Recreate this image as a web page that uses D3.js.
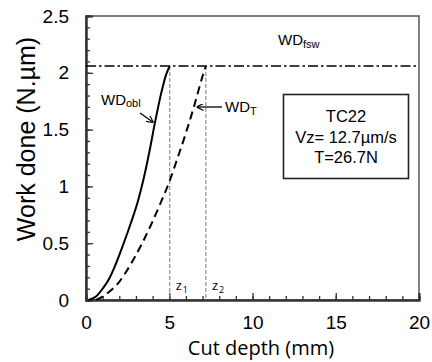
<!DOCTYPE html>
<html>
<head>
<meta charset="utf-8">
<script src="https://cdn.jsdelivr.net/npm/d3@7"></script>
<style>
  body { margin: 0; background: #fff; }
  svg text { fill: #000; }
</style>
</head>
<body>
<div id="chart"></div>
<script>
// WD_obl (solid) and WD_T (dashed) curves
const oblDepth = [0.14, 0.6, 1.0, 1.4, 1.8, 2.24, 2.7, 3.1, 3.45, 3.8, 4.14, 4.5, 4.8, 5.03];
const oblWork  = [0, 0.03, 0.10, 0.19, 0.32, 0.49, 0.68, 0.86, 1.06, 1.30, 1.56, 1.81, 1.98, 2.06];
const tDepth = [0.6, 1.0, 1.5, 2.0, 2.44, 2.9, 3.34, 3.9, 4.44, 5.0, 5.5, 6.0, 6.5, 7.0, 7.2];
const tWork  = [0, 0.03, 0.085, 0.16, 0.255, 0.37, 0.49, 0.66, 0.84, 1.04, 1.25, 1.47, 1.71, 1.97, 2.06];
const fswWork = 2.06;
const zMarks = [{ name: 'z', sub: '1', depth: 5.03 }, { name: 'z', sub: '2', depth: 7.2 }];
const xTicks = [0, 5, 10, 15, 20];
const yTicks = [0, 0.5, 1, 1.5, 2, 2.5];
const boxLines = ['TC22', 'Vz= 12.7\u00b5m/s', 'T=26.7N'];

const W = 432, H = 362;
const margin = { top: 16, right: 13, bottom: 62, left: 86 };
const width = W - margin.left - margin.right;
const height = H - margin.top - margin.bottom;

const svg = d3.select('#chart').append('svg')
  .attr('width', W).attr('height', H);

const defs = svg.append('defs');
defs.append('marker')
  .attr('id', 'arr')
  .attr('viewBox', '0 0 10 10')
  .attr('refX', 10).attr('refY', 5)
  .attr('markerWidth', 7).attr('markerHeight', 7)
  .attr('markerUnits', 'userSpaceOnUse')
  .attr('orient', 'auto')
  .append('path')
  .attr('d', 'M0,0 L10,5 L0,10')
  .attr('fill', 'none').attr('stroke', '#000').attr('stroke-width', 1.6);

const g = svg.append('g').attr('transform', `translate(${margin.left},${margin.top})`);

const x = d3.scaleLinear().domain([0, 20]).range([0, width]);
const y = d3.scaleLinear().domain([0, 2.5]).range([height, 0]);

// frame (top/right)
g.append('rect')
  .attr('width', width).attr('height', height)
  .attr('fill', 'none').attr('stroke', '#555').attr('stroke-width', 1.5);

// minor + major ticks, pointing inward
const xAxis = g.append('g').attr('transform', `translate(0,${height})`)
  .call(d3.axisBottom(x).tickValues(d3.range(0, 21, 1)).tickSize(-4).tickFormat(''));
const xMajor = g.append('g').attr('transform', `translate(0,${height})`)
  .call(d3.axisBottom(x).tickValues(xTicks).tickSize(-7).tickPadding(16).tickFormat(d3.format('d')));
const yAxis = g.append('g')
  .call(d3.axisLeft(y).tickValues(d3.range(0, 26).map(d => d / 10)).tickSize(-4).tickFormat(''));
const yMajor = g.append('g')
  .call(d3.axisLeft(y).tickValues(yTicks).tickSize(-7).tickPadding(17).tickFormat(d => d));

[xAxis, xMajor, yAxis, yMajor].forEach(a => {
  a.selectAll('.domain').attr('stroke', '#333').attr('stroke-width', 2);
  a.selectAll('.tick line').attr('stroke', '#333').attr('stroke-width', 1.3);
});
xMajor.selectAll('text')
  .attr('font-family', 'Liberation Sans, Arial, sans-serif').attr('font-size', 19).attr('fill', '#000');
yMajor.selectAll('text')
  .attr('font-family', 'Liberation Sans, Arial, sans-serif').attr('font-size', 19).attr('fill', '#000');

// fsw level (dash-dot)
g.append('line')
  .attr('x1', 0).attr('x2', width)
  .attr('y1', y(fswWork)).attr('y2', y(fswWork))
  .attr('stroke', '#000').attr('stroke-width', 1.6)
  .attr('stroke-dasharray', '10,3,2.5,3');

// z1, z2 verticals
zMarks.forEach(z => {
  g.append('line')
    .attr('x1', x(z.depth)).attr('x2', x(z.depth))
    .attr('y1', y(fswWork)).attr('y2', height)
    .attr('stroke', '#777').attr('stroke-width', 1)
    .attr('stroke-dasharray', '4,2');
  const t = g.append('text')
    .attr('x', x(z.depth) + 6).attr('y', height - 10)
    .attr('font-family', 'Open Sans, sans-serif').attr('font-size', 13);
  t.append('tspan').text(z.name);
  t.append('tspan').attr('font-size', 9).attr('dy', 3).attr('dx', 1).text(z.sub);
});

const line = d3.line().x(d => x(d[0])).y(d => y(d[1])).curve(d3.curveMonotoneX);

g.append('path')
  .datum(d3.zip(oblDepth, oblWork))
  .attr('d', line)
  .attr('fill', 'none').attr('stroke', '#000').attr('stroke-width', 2);

g.append('path')
  .datum(d3.zip(tDepth, tWork))
  .attr('d', line)
  .attr('fill', 'none').attr('stroke', '#000').attr('stroke-width', 2)
  .attr('stroke-dasharray', '8,5');

// labels with subscripts
function subLabel(px, py, main, sub, sz, subSz, subDy) {
  const t = svg.append('text')
    .attr('x', px).attr('y', py)
    .attr('font-family', 'Liberation Sans, Arial, sans-serif').attr('font-size', sz);
  t.append('tspan').text(main);
  t.append('tspan').attr('font-size', subSz).attr('dy', subDy).text(sub);
}
subLabel(278, 45, 'WD', 'fsw', 15, 11, 3);
subLabel(101, 105, 'WD', 'obl', 15, 11, 2);
subLabel(225, 112, 'WD', 'T', 15, 11, 3);

// arrows to curves
svg.append('line')
  .attr('x1', 140).attr('y1', 113).attr('x2', 153.5).attr('y2', 122.5)
  .attr('stroke', '#000').attr('stroke-width', 1.3).attr('marker-end', 'url(#arr)');
svg.append('line')
  .attr('x1', 222).attr('y1', 107).attr('x2', 196.5).attr('y2', 107)
  .attr('stroke', '#000').attr('stroke-width', 1.3).attr('marker-end', 'url(#arr)');

// info box
svg.append('rect')
  .attr('x', 283.5).attr('y', 94.5).attr('width', 125).attr('height', 84)
  .attr('fill', '#fff').attr('stroke', '#222').attr('stroke-width', 1.6);
svg.append('g').selectAll('text')
  .data(boxLines).join('text')
  .attr('x', 346).attr('y', (d, i) => 122 + i * 20.7)
  .attr('text-anchor', 'middle')
  .attr('font-family', 'Liberation Sans, Arial, sans-serif').attr('font-size', 16.5)
  .text(d => d);

// axis titles
svg.append('text')
  .attr('x', 261).attr('y', 355)
  .attr('text-anchor', 'middle')
  .attr('font-family', 'Open Sans, sans-serif').attr('font-size', 20)
  .text('Cut depth (mm)');
svg.append('text')
  .attr('transform', 'translate(35,139) rotate(-90)')
  .attr('text-anchor', 'middle')
  .attr('font-family', 'Liberation Sans, Arial, sans-serif').attr('font-size', 25)
  .text('Work done (N.\u00b5m)');
</script>
</body>
</html>
